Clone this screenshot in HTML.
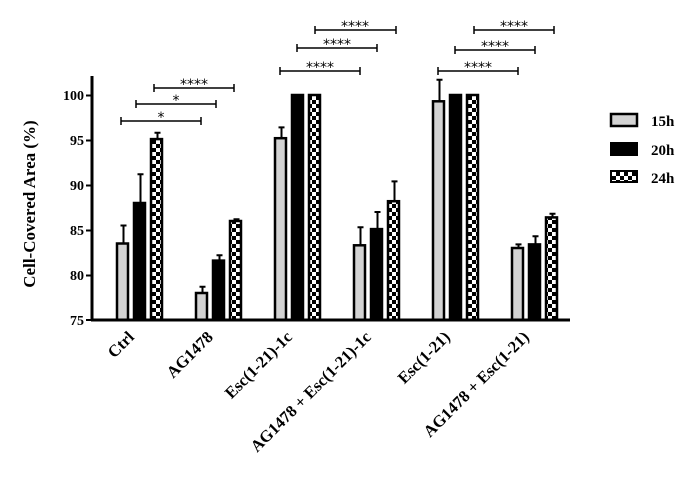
<!DOCTYPE html>
<html><head><meta charset="utf-8"><style>body{margin:0;background:#fff}</style></head><body>
<svg width="700" height="489" xmlns="http://www.w3.org/2000/svg" font-family="Liberation Serif, serif" font-weight="bold">
<defs>
<pattern id="ck" width="8" height="8" patternUnits="userSpaceOnUse">
<rect width="8" height="8" fill="#000"/><rect x="0" y="0" width="4" height="4" fill="#fff"/><rect x="4" y="4" width="4" height="4" fill="#fff"/>
</pattern>
</defs>
<g stroke="#000" stroke-width="2">
<path d="M123.5 225.5V243.5M120.5 225.5H126.5"/>
<path d="M140.5 174.2V203M137.5 174.2H143.5"/>
<path d="M157.5 132.8V139M154.5 132.8H160.5"/>
<path d="M202.5 286.7V293M199.5 286.7H205.5"/>
<path d="M219.5 255.2V260.6M216.5 255.2H222.5"/>
<path d="M236.5 219.2V221M233.5 219.2H239.5"/>
<path d="M281.5 127.4V138.2M278.5 127.4H284.5"/>
<path d="M360.5 227.3V245.3M357.5 227.3H363.5"/>
<path d="M377.5 212V229.1M374.5 212H380.5"/>
<path d="M394.5 181.4V201.2M391.5 181.4H397.5"/>
<path d="M439.5 79.7V101.3M436.5 79.7H442.5"/>
<path d="M518.5 244.4V248M515.5 244.4H521.5"/>
<path d="M535.5 236.3V244.4M532.5 236.3H538.5"/>
<path d="M552.5 213.8V217.4M549.5 213.8H555.5"/>
</g>
<g stroke="#000" stroke-width="2.5">
<rect x="117" y="243.5" width="11" height="76.5" fill="#d3d3d3"/>
<rect x="134" y="203" width="11" height="117" fill="#000"/>
<rect x="151" y="139.1" width="11" height="180.9" fill="url(#ck)"/>
<rect x="196" y="293" width="11" height="27" fill="#d3d3d3"/>
<rect x="213" y="260.6" width="11" height="59.4" fill="#000"/>
<rect x="230" y="221" width="11" height="99" fill="url(#ck)"/>
<rect x="275" y="138.2" width="11" height="181.8" fill="#d3d3d3"/>
<rect x="292" y="95" width="11" height="225" fill="#000"/>
<rect x="309" y="95" width="11" height="225" fill="url(#ck)"/>
<rect x="354" y="245.3" width="11" height="74.7" fill="#d3d3d3"/>
<rect x="371" y="229.1" width="11" height="90.9" fill="#000"/>
<rect x="388" y="201.2" width="11" height="118.8" fill="url(#ck)"/>
<rect x="433" y="101.3" width="11" height="218.7" fill="#d3d3d3"/>
<rect x="450" y="95" width="11" height="225" fill="#000"/>
<rect x="467" y="95" width="11" height="225" fill="url(#ck)"/>
<rect x="512" y="248" width="11" height="72" fill="#d3d3d3"/>
<rect x="529" y="244.4" width="11" height="75.6" fill="#000"/>
<rect x="546" y="217.4" width="11" height="102.6" fill="url(#ck)"/>
</g>
<line x1="92" y1="76" x2="92" y2="321" stroke="#000" stroke-width="3"/>
<line x1="91" y1="320" x2="570" y2="320" stroke="#000" stroke-width="3"/>
<g stroke="#000" stroke-width="2">
<line x1="86" y1="95.5" x2="92" y2="95.5"/><line x1="86" y1="140.5" x2="92" y2="140.5"/>
<line x1="86" y1="185.5" x2="92" y2="185.5"/><line x1="86" y1="230.5" x2="92" y2="230.5"/>
<line x1="86" y1="275.5" x2="92" y2="275.5"/><line x1="86" y1="320" x2="92" y2="320"/>
</g>
<g font-size="14" text-anchor="end">
<text x="84" y="100">100</text><text x="84" y="145">95</text><text x="84" y="190">90</text>
<text x="84" y="235">85</text><text x="84" y="280">80</text><text x="84" y="325">75</text>
</g>
<text transform="translate(35,204) rotate(-90)" font-size="17" text-anchor="middle">Cell-Covered Area (%)</text>
<g font-size="16.5" text-anchor="end">
<text transform="translate(135,338) rotate(-45)">Ctrl</text>
<text transform="translate(214,338) rotate(-45)">AG1478</text>
<text transform="translate(293,338) rotate(-45)">Esc(1-21)-1c</text>
<text transform="translate(372,338) rotate(-45)">AG1478 + Esc(1-21)-1c</text>
<text transform="translate(451,338) rotate(-45)">Esc(1-21)</text>
<text transform="translate(530,338) rotate(-45)">AG1478 + Esc(1-21)</text>
</g>
<g stroke="#000" stroke-width="1.5" fill="none">
<path d="M121 121H201M121 117V125M201 117V125"/>
<path d="M136 104H216M136 100V108M216 100V108"/>
<path d="M154 88H234M154 84V92M234 84V92"/>
<path d="M280 71H360M280 67V75M360 67V75"/>
<path d="M297 48H377M297 44V52M377 44V52"/>
<path d="M315 30H396M315 26V34M396 26V34"/>
<path d="M438 71H518M438 67V75M518 67V75"/>
<path d="M455 50H535M455 46V54M535 46V54"/>
<path d="M474 30H554M474 26V34M554 26V34"/>
</g>
<g font-size="14" text-anchor="middle" font-family="DejaVu Sans, sans-serif" font-weight="normal">
<text x="161" y="122">*</text><text x="176" y="105">*</text><text x="194" y="89">****</text>
<text x="320" y="72">****</text><text x="337" y="49">****</text><text x="355" y="31">****</text>
<text x="478" y="72">****</text><text x="495" y="51">****</text><text x="514" y="31">****</text>
</g>
<rect x="611" y="114" width="26" height="12" fill="#d3d3d3" stroke="#000" stroke-width="2.5"/>
<rect x="610" y="142" width="28" height="14" fill="#000"/>
<rect x="611" y="171" width="26" height="11" fill="url(#ck)" stroke="#000" stroke-width="2"/>
<g font-size="15"><text x="651" y="126">15h</text><text x="651" y="155">20h</text><text x="651" y="183">24h</text></g>
</svg>
</body></html>
